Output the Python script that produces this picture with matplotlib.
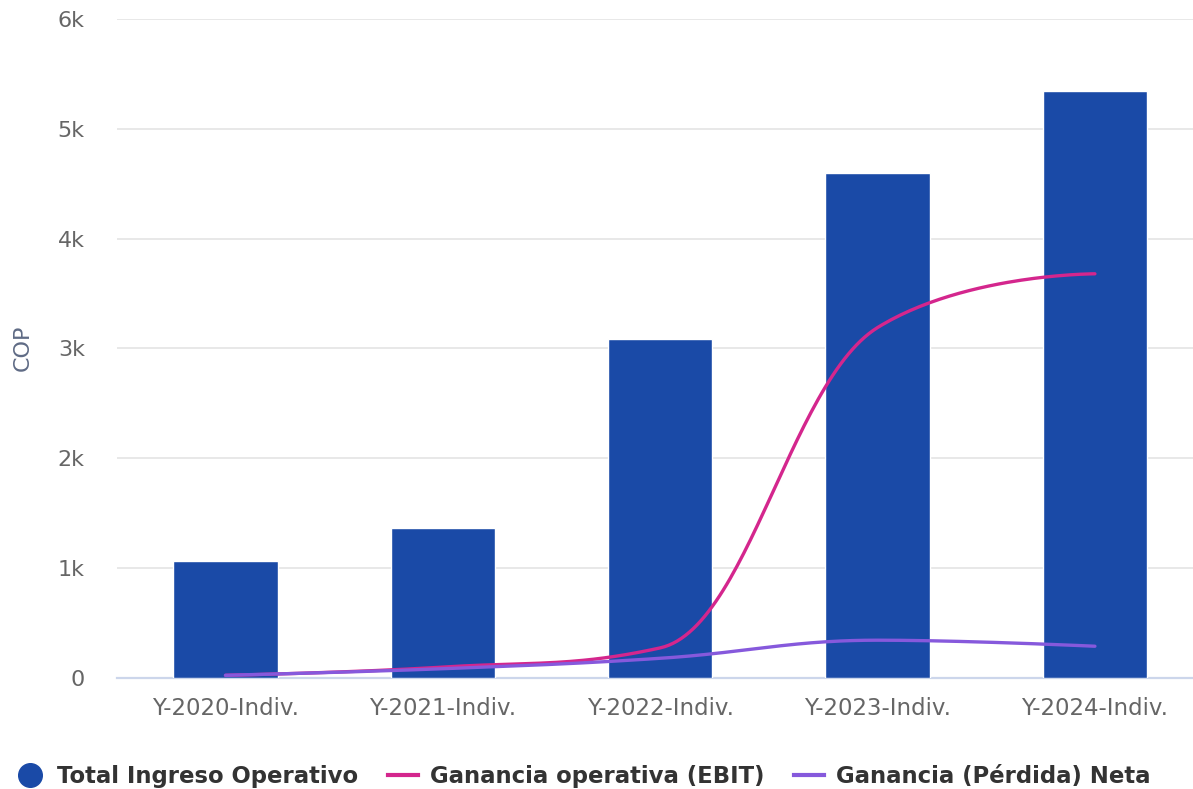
import numpy as np
import matplotlib
matplotlib.use('Agg')
import matplotlib.pyplot as plt
from matplotlib.lines import Line2D
from matplotlib.ticker import FuncFormatter

categories = ['Y-2020-Indiv.', 'Y-2021-Indiv.', 'Y-2022-Indiv.', 'Y-2023-Indiv.', 'Y-2024-Indiv.']
ingreso = [1060, 1360, 3090, 4600, 5350]
ebit = [20, 95, 270, 3190, 3680]
neta = [20, 80, 175, 340, 285]

c_bar = '#1a4aa7'
c_ebit = '#d4268d'
c_neta = '#8659dc'


def spline(xs, ys, smoothing=1.5):
    # highcharts-like spline: bezier segments with clamped control points
    n = len(xs)
    denom = smoothing + 1
    left = [None] * n
    right = [None] * n
    for i in range(1, n - 1):
        lx, ly = xs[i - 1], ys[i - 1]
        px, py = xs[i], ys[i]
        nx, ny = xs[i + 1], ys[i + 1]
        lcx = (smoothing * px + lx) / denom
        lcy = (smoothing * py + ly) / denom
        rcx = (smoothing * px + nx) / denom
        rcy = (smoothing * py + ny) / denom
        corr = 0
        if rcx != lcx:
            corr = (rcy - lcy) * (rcx - px) / (rcx - lcx) + py - rcy
        lcy += corr
        rcy += corr
        if lcy > ly and lcy > py:
            lcy = max(ly, py)
            rcy = 2 * py - lcy
        elif lcy < ly and lcy < py:
            lcy = min(ly, py)
            rcy = 2 * py - lcy
        if rcy > ny and rcy > py:
            rcy = max(ny, py)
            lcy = 2 * py - rcy
        elif rcy < ny and rcy < py:
            rcy = min(ny, py)
            lcy = 2 * py - rcy
        left[i] = (lcx, lcy)
        right[i] = (rcx, rcy)
    t = np.linspace(0, 1, 60)[1:]
    out_x, out_y = [xs[0]], [ys[0]]
    for i in range(1, n):
        p0 = np.array([xs[i - 1], ys[i - 1]], float)
        p3 = np.array([xs[i], ys[i]], float)
        p1 = np.array(right[i - 1]) if right[i - 1] is not None else p0
        p2 = np.array(left[i]) if left[i] is not None else p3
        seg = ((1 - t) ** 3)[:, None] * p0 + (3 * (1 - t) ** 2 * t)[:, None] * p1 \
            + (3 * (1 - t) * t ** 2)[:, None] * p2 + (t ** 3)[:, None] * p3
        out_x.extend(seg[:, 0])
        out_y.extend(seg[:, 1])
    return out_x, out_y


W, H = 1193, 789
fig = plt.figure(figsize=(W / 100, H / 100), dpi=100)
left_px, right_px = 116.8, 1203.6
top_px, bot_px = 19.3, 677.5
ax = fig.add_axes([left_px / W, 1 - bot_px / H, (right_px - left_px) / W, (bot_px - top_px) / H])

x = np.arange(len(categories))
ax.bar(x, ingreso, width=0.48, color=c_bar, edgecolor='white', linewidth=1, zorder=2)

sx, sy = spline(x, ebit)
ax.plot(sx, sy, color=c_ebit, lw=2.4, zorder=3, solid_capstyle='round')
sx, sy = spline(x, neta)
ax.plot(sx, sy, color=c_neta, lw=2.4, zorder=3, solid_capstyle='round')

ax.set_xlim(-0.5, len(categories) - 0.5)
ax.set_ylim(0, 6000)
ax.set_yticks(range(0, 6001, 1000))
ax.yaxis.set_major_formatter(FuncFormatter(lambda v, p: '0' if v == 0 else '%dk' % (v / 1000)))
ax.set_xticks(x)
ax.set_xticklabels(categories)
ax.grid(axis='y', color='#e6e6e6', lw=1.3, zorder=0)
ax.set_axisbelow(True)
for s in ['top', 'right', 'left']:
    ax.spines[s].set_visible(False)
ax.spines['bottom'].set_color('#ccd6eb')
ax.spines['bottom'].set_linewidth(1.6)
ax.spines['bottom'].set_zorder(1)
ax.tick_params(axis='y', length=0, pad=23, labelsize=16, labelcolor='#666666')
ax.tick_params(axis='x', length=0, pad=14, labelsize=16.5, labelcolor='#666666')

fig.text(22.5 / W, 1 - 348 / H, 'COP', rotation=90, ha='center', va='center',
         fontsize=16, color='#5f6b85')

handles = [
    Line2D([], [], ls='none', marker='o', markersize=17, color=c_bar),
    Line2D([], [], color=c_ebit, lw=3),
    Line2D([], [], color=c_neta, lw=3),
]
labels = ['Total Ingreso Operativo', 'Ganancia operativa (EBIT)', 'Ganancia (Pérdida) Neta']
fig.legend(handles, labels, loc='center', bbox_to_anchor=(583 / W, 1 - 776 / H), ncol=3,
           frameon=False, handlelength=1.3, handletextpad=0.55, columnspacing=1.3,
           prop={'weight': 'bold', 'size': 16.4}, labelcolor='#333333')

fig.savefig('out.png', dpi=100)
